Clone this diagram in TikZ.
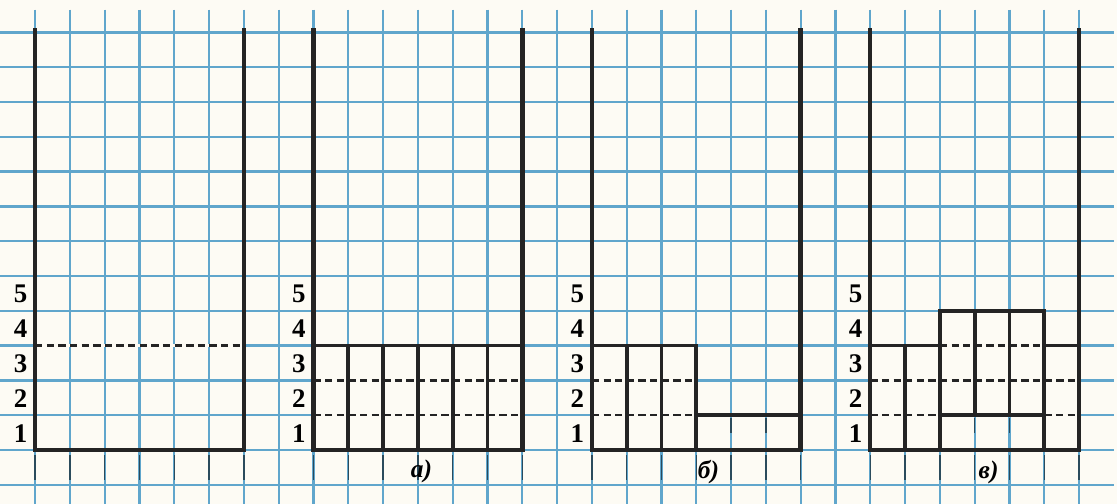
\documentclass[tikz,border=0pt]{standalone}
\usepackage{fontspec}
\setmainfont{Liberation Serif}
\definecolor{gridblue}{RGB}{96,166,204}
\definecolor{paper}{RGB}{253,251,244}
\definecolor{ink}{RGB}{36,36,36}
\tikzset{
	wall/.style={ink,line width=3.6pt,line cap=rect},
	bar/.style={ink,line width=3.2pt,line cap=rect},
	level/.style={ink,line width=1.9pt,dash pattern=on 6pt off 3.5pt,preaction={draw=paper,solid,line width=2pt}},
	stub/.style={gridblue!45!black,line width=1.2pt},
	num/.style={inner sep=1pt,font=\fontsize{22}{24}\selectfont\bfseries},
	caption/.style={font=\huge\bfseries\itshape}
}
\begin{document}
\begin{tikzpicture}[x=1cm,y=1cm]
	\def\xmin{-1.01}\def\xmax{31.09}\def\ymin{-1.55}\def\ymax{12.93}
	\fill[paper](\xmin,\ymin) rectangle (\xmax,\ymax);
	\useasboundingbox(\xmin,\ymin) rectangle (\xmax,\ymax);
	% grid paper
	\foreach \y in {-1,...,12}\draw[gridblue,line width=1.9pt](-1,\y)--(31,\y);
	\foreach \x in {0,...,30}\draw[gridblue,line width=1.9pt](\x,12.65)--(\x,\ymin);
	\foreach \g in {0,8,16,24}\foreach \x in {0,...,6}\draw[stub](\g+\x,-.15)--(\g+\x,-.85);
	% scale 1..5 beside each glass
	\foreach \g in {0,8,16,24}\foreach \k in {1,...,5}\node[num] (n\g-\k) at (\g-.42,\k-.52) {\k};
	% glass 1
	\draw[level](0,3)--(6,3);
	\draw[wall](0,12.05)--(0,0)--(6,0)--(6,12.05);
	% glass 2
	\draw[level](8,1)--(14,1) (8,2)--(14,2);
	\foreach \x in {9,...,13}\draw[bar](\x,0)--(\x,3);
	\draw[bar](8,3)--(14,3);
	\draw[wall](8,12.05)--(8,0)--(14,0)--(14,12.05);
	\node[caption] (capa) at (11.1,-.62) {а)};
	% glass 3
	\draw[level](16,1)--(19,1) (16,2)--(19,2);
	\foreach \x in {17,18,19}\draw[bar](\x,0)--(\x,3);
	\draw[bar](16,3)--(19,3) (19,1)--(22,1);
	\foreach \x in {20,21}\draw[stub](\x,.92)--(\x,.5);
	\draw[wall](16,12.05)--(16,0)--(22,0)--(22,12.05);
	\node[caption] (capb) at (19.35,-.65) {б)};
	% glass 4
	\draw[level](24,1)--(26,1) (29,1)--(30,1) (24,2)--(30,2) (26,3)--(29,3);
	\draw[bar](24,3)--(26,3) (26,4)--(29,4) (29,3)--(30,3) (26,1)--(29,1);
	\draw[bar](25,0)--(25,3) (26,0)--(26,4) (27,1)--(27,4) (28,1)--(28,4) (29,0)--(29,4);
	\foreach \x in {27,28}\draw[stub](\x,.92)--(\x,.5);
	\draw[wall](24,12.05)--(24,0)--(30,0)--(30,12.05);
	\node[caption] (capc) at (27.4,-.65) {в)};
\end{tikzpicture}
\end{document}
